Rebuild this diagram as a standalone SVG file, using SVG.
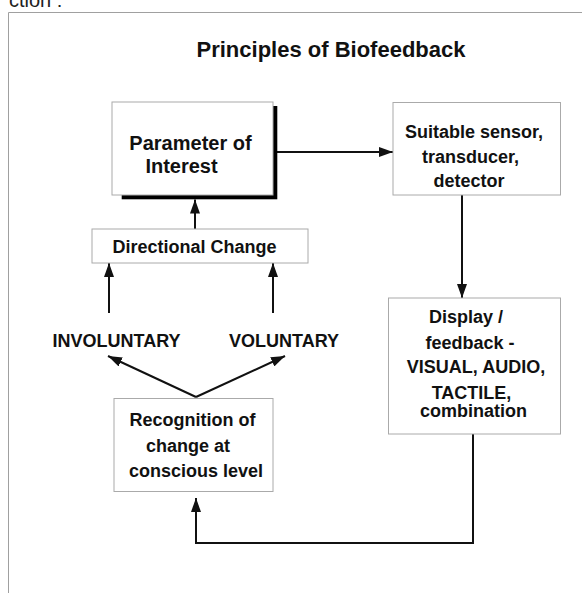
<svg xmlns="http://www.w3.org/2000/svg" width="582" height="593" viewBox="0 0 582 593">
<style>
.t{font-family:"Liberation Sans",Arial,sans-serif;font-weight:bold;font-size:18px;fill:#111;text-anchor:middle}
.box{fill:#fff;stroke:#aaa;stroke-width:1}
.c{fill:none;stroke:#111;stroke-width:2;stroke-linejoin:miter}
</style>
<defs>
<marker id="ah" markerUnits="userSpaceOnUse" markerWidth="14" markerHeight="10" refX="14" refY="5" orient="auto">
<path d="M0,0 L14,5 L0,10 z" fill="#111"/>
</marker>
</defs>
<rect width="582" height="593" fill="#fff"/>
<text x="9" y="7" style="font-family:'Liberation Sans',Arial,sans-serif;font-size:20px;fill:#222">ction :</text>
<path d="M8.5,593 V12.5 H582" fill="none" stroke="#a0a0a0" stroke-width="1"/>
<text class="t" x="331" y="57" style="font-size:22px">Principles of Biofeedback</text>

<g id="connectors">
<path class="c" d="M277,152 H393" marker-end="url(#ah)"/>
<path class="c" d="M462,195 V298" marker-end="url(#ah)"/>
<path class="c" d="M473,434 V543 H196 V498" marker-end="url(#ah)"/>
<path class="c" d="M196,397 L108,356" marker-end="url(#ah)"/>
<path class="c" d="M196,397 L285,356" marker-end="url(#ah)"/>
<path class="c" d="M109,313 V263" marker-end="url(#ah)"/>
<path class="c" d="M273,313 V263" marker-end="url(#ah)"/>
<path class="c" d="M195,229 V199.5" marker-end="url(#ah)"/>
</g>

<g id="parameter">
<rect x="121.7" y="106" width="155.6" height="93.3" fill="#000"/>
<rect class="box" x="112" y="102" width="161" height="93"/>
<text class="t" x="190.5" y="150" style="font-size:20px">Parameter of</text>
<text class="t" x="181.5" y="173" style="font-size:20px">Interest</text>
</g>

<g id="sensor">
<rect class="box" x="393" y="102.5" width="167.5" height="92.5"/>
<text class="t" x="474" y="138">Suitable sensor,</text>
<text class="t" x="470.5" y="163">transducer,</text>
<text class="t" x="469" y="187">detector</text>
</g>

<g id="display">
<rect class="box" x="388.5" y="298" width="172" height="136"/>
<text class="t" x="466" y="323">Display /</text>
<text class="t" x="470" y="349">feedback -</text>
<text class="t" x="476" y="373">VISUAL, AUDIO,</text>
<text class="t" x="471.5" y="399">TACTILE,</text>
<text class="t" x="473.5" y="417">combination</text>
</g>

<g id="directional">
<rect class="box" x="92" y="229" width="216" height="34"/>
<text class="t" x="194.5" y="253">Directional Change</text>
</g>

<g id="involuntary">
<text class="t" x="116.5" y="347">INVOLUNTARY</text>
</g>
<g id="voluntary">
<text class="t" x="284" y="347">VOLUNTARY</text>
</g>

<g id="recognition">
<rect class="box" x="114" y="398.5" width="159" height="93"/>
<text class="t" x="192.5" y="425.5">Recognition of</text>
<text class="t" x="188" y="451.5">change at</text>
<text class="t" x="196" y="477">conscious level</text>
</g>
</svg>
